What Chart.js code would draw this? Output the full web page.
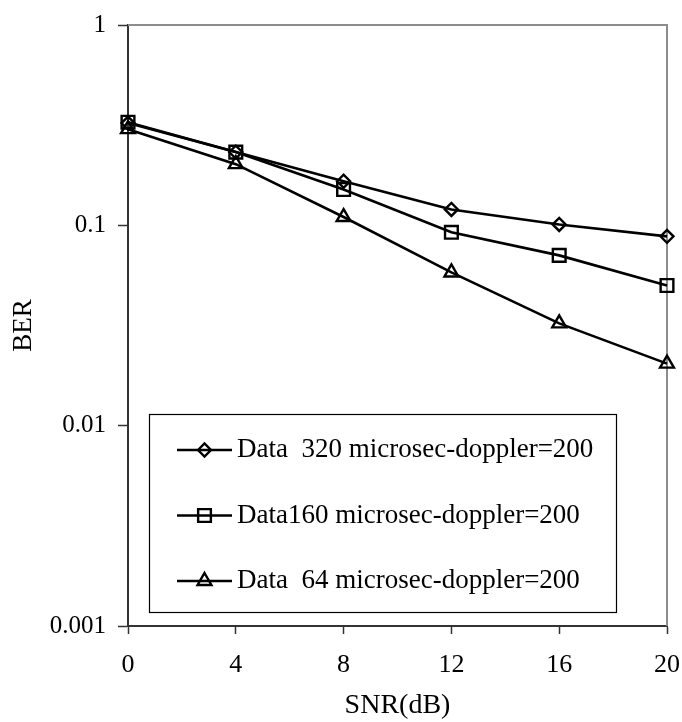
<!DOCTYPE html>
<html>
<head>
<meta charset="utf-8">
<title>BER vs SNR</title>
<script src="https://cdn.jsdelivr.net/npm/chart.js@4.4.1/dist/chart.umd.min.js"></script>
<style>
  html, body { margin: 0; padding: 0; background: #fff; }
  #wrap { width: 682px; height: 722px; position: relative; }
</style>
</head>
<body>
<div id="wrap"><canvas id="berChart"></canvas></div>
<script>
// SNR points (dB) and measured bit error rates per data length
const SNR_DB = [0, 4, 8, 12, 16, 20];
const BER_320 = [0.324, 0.232, 0.166, 0.120, 0.101, 0.0881];
const BER_160 = [0.327, 0.232, 0.151, 0.0923, 0.0708, 0.0501];
const BER_64 = [0.302, 0.202, 0.110, 0.0582, 0.0324, 0.0204];

const SERIES_LABELS = [
    'Data  320 microsec-doppler=200',
    'Data160 microsec-doppler=200',
    'Data  64 microsec-doppler=200',
];

const X_TICKS = [0, 4, 8, 12, 16, 20];
const Y_TICKS = [0.001, 0.01, 0.1, 1];

const SERIF = "'Liberation Serif', 'Times New Roman', serif";

function series(label, values, style, radius) {
    return {
        label: label,
        data: SNR_DB.map(function(x, i) { return { x: x, y: values[i] }; }),
        borderColor: '#000',
        borderWidth: 2.6,
        backgroundColor: 'transparent',
        pointStyle: style,
        pointRadius: radius,
        pointBorderWidth: 2.4,
        pointBorderColor: '#000',
        pointBackgroundColor: 'transparent',
        tension: 0,
        clip: false,
    };
}

// gray frame on the top and right of the plot area
const plotFrame = {
    id: 'plotFrame',
    beforeDatasetsDraw(chart) {
        const { ctx, chartArea: a } = chart;
        ctx.save();
        ctx.strokeStyle = '#8c8c8c';
        ctx.lineWidth = 2;
        ctx.beginPath();
        ctx.moveTo(a.left, a.top);
        ctx.lineTo(a.right, a.top);
        ctx.lineTo(a.right, a.bottom);
        ctx.stroke();
        ctx.restore();
    }
};

// boxed legend sitting inside the lower part of the plot
const insetLegend = {
    id: 'insetLegend',
    afterDatasetsDraw(chart) {
        const { ctx, chartArea: a } = chart;
        const box = { x: a.left + 21, y: a.top + 389, w: 467, h: 198 };
        ctx.save();
        ctx.fillStyle = '#fff';
        ctx.fillRect(box.x, box.y, box.w, box.h);
        ctx.strokeStyle = '#000';
        ctx.lineWidth = 1.2;
        ctx.strokeRect(box.x + 0.5, box.y + 0.5, box.w, box.h);

        chart.data.datasets.forEach(function(ds, i) {
            const cy = box.y + 36 + i * 65.5;
            const x0 = box.x + 28;
            const x1 = box.x + 83;
            ctx.strokeStyle = '#000';
            ctx.lineWidth = 2.4;
            ctx.beginPath();
            ctx.moveTo(x0, cy);
            ctx.lineTo(x1, cy);
            ctx.stroke();

            ctx.fillStyle = 'transparent';
            Chart.helpers.drawPoint(ctx, {
                pointStyle: ds.pointStyle,
                radius: ds.pointRadius,
                borderWidth: ds.pointBorderWidth,
                rotation: 0,
            }, (x0 + x1) / 2, cy);

            ctx.fillStyle = '#000';
            ctx.font = '27px ' + SERIF;
            ctx.textAlign = 'left';
            ctx.textBaseline = 'middle';
            ctx.fillText(ds.label, x1 + 5, cy);
        });
        ctx.restore();
    }
};

new Chart(document.getElementById('berChart'), {
    type: 'line',
    data: {
        datasets: [
            series(SERIES_LABELS[0], BER_320, 'rectRot', 6.5),
            series(SERIES_LABELS[1], BER_160, 'rect', 9),
            series(SERIES_LABELS[2], BER_64, 'triangle', 8),
        ],
    },
    options: {
        responsive: true,
        maintainAspectRatio: false,
        animation: false,
        devicePixelRatio: 1,
        layout: { padding: { top: 25, right: 15, left: 0, bottom: 0 } },
        plugins: {
            legend: { display: false },
            tooltip: { enabled: false },
        },
        scales: {
            x: {
                type: 'linear',
                min: 0,
                max: 20,
                afterBuildTicks: function(scale) {
                    scale.ticks = X_TICKS.map(function(v) { return { value: v }; });
                },
                afterFit: function(scale) {
                    scale.height = 96;
                    // the "20" label may hang over the right edge
                    scale.paddingLeft = 0;
                    scale.paddingRight = 0;
                },
                ticks: {
                    color: '#000',
                    font: { family: SERIF, size: 26 },
                    padding: 16,
                    maxRotation: 0,
                },
                grid: {
                    drawOnChartArea: false,
                    drawTicks: true,
                    tickLength: 8,
                    tickColor: '#333',
                    tickWidth: 1.5,
                },
                border: { display: true, color: '#333', width: 2 },
                title: {
                    display: true,
                    text: 'SNR(dB)',
                    color: '#000',
                    font: { family: SERIF, size: 28 },
                    padding: { top: 0, bottom: 0 },
                },
            },
            y: {
                type: 'logarithmic',
                min: 0.001,
                max: 1,
                afterBuildTicks: function(scale) {
                    scale.ticks = Y_TICKS.map(function(v) { return { value: v, major: true }; });
                },
                afterFit: function(scale) {
                    scale.width = 128;
                    scale.paddingTop = 0;
                    scale.paddingBottom = 0;
                },
                ticks: {
                    color: '#000',
                    font: { family: SERIF, size: 25 },
                    padding: 12,
                    callback: function(value) { return String(value); },
                },
                grid: {
                    drawOnChartArea: false,
                    drawTicks: true,
                    tickLength: 10,
                    tickColor: '#333',
                    tickWidth: 1.5,
                },
                border: { display: true, color: '#333', width: 2 },
                title: {
                    display: true,
                    text: 'BER',
                    color: '#000',
                    font: { family: SERIF, size: 27 },
                    padding: { top: 8, bottom: 0 },
                },
            },
        },
    },
    plugins: [plotFrame, insetLegend],
});
</script>
</body>
</html>
